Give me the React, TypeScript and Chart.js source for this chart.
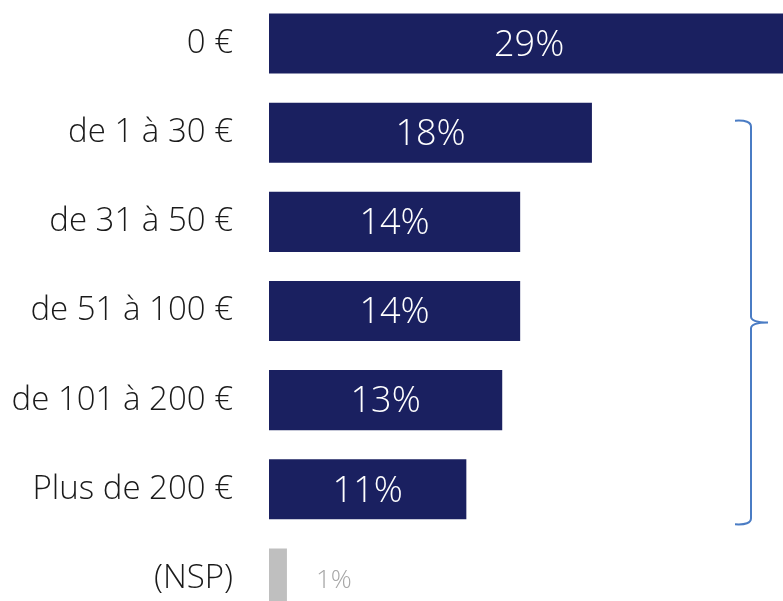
import React, { useEffect, useRef } from "react";
import { Chart, registerables } from "chart.js";

Chart.register(...registerables);

const categories = ["0 €", "de 1 à 30 €", "de 31 à 50 €", "de 51 à 100 €", "de 101 à 200 €", "Plus de 200 €", "(NSP)"];
const values = [29, 18, 14, 14, 13, 11, 1];
const barColors = ["#1a2060", "#1a2060", "#1a2060", "#1a2060", "#1a2060", "#1a2060", "#bfbfbf"];

const FONT = "'Open Sans', 'DejaVu Sans', sans-serif";

const labelPlugin = {
  id: "valueLabels",
  afterDatasetsDraw(chart: any) {
    const ctx = chart.ctx;
    const meta = chart.getDatasetMeta(0);
    ctx.save();
    meta.data.forEach((bar: any, i: number) => {
      const v = values[i];
      const txt = v + "%";
      ctx.textBaseline = "middle";
      ctx.textAlign = "center";
      if (i === values.length - 1) {
        ctx.font = `300 26px ${FONT}`;
        ctx.fillStyle = "#a6a6a6";
        ctx.fillText(txt, bar.x + 47, bar.y + 2);
      } else {
        ctx.font = `300 36px ${FONT}`;
        ctx.fillStyle = "#ffffff";
        ctx.fillText(txt, (bar.x + bar.base) / 2, bar.y + 2);
      }
    });
    ctx.restore();
  },
};

const bracePlugin = {
  id: "brace",
  afterDraw(chart: any) {
    const ctx = chart.ctx;
    const y = chart.scales.y;
    const top = y.getPixelForValue(1) - 12;
    const bottom = y.getPixelForValue(5) + 35;
    const mid = (top + bottom) / 2;
    const xv = 751;
    const xl = 735;
    const xr = 768;
    ctx.save();
    ctx.strokeStyle = "#4a7cc4";
    ctx.lineWidth = 2;
    ctx.beginPath();
    ctx.moveTo(xl, top);
    ctx.quadraticCurveTo(xv, top - 1, xv, top + 6);
    ctx.lineTo(xv, mid - 6);
    ctx.quadraticCurveTo(xv, mid, xr, mid);
    ctx.moveTo(xr, mid);
    ctx.quadraticCurveTo(xv, mid, xv, mid + 6);
    ctx.lineTo(xv, bottom - 6);
    ctx.quadraticCurveTo(xv, bottom + 1, xl, bottom);
    ctx.stroke();
    ctx.restore();
  },
};

export default function App() {
  const ref = useRef<HTMLCanvasElement>(null);
  useEffect(() => {
    if (!ref.current) return;
    const chart = new Chart(ref.current, {
      type: "bar",
      data: {
        labels: categories,
        datasets: [
          {
            data: values,
            backgroundColor: barColors,
            categoryPercentage: 1,
            barPercentage: 0.674,
          },
        ],
      },
      options: {
        indexAxis: "y",
        animation: false,
        responsive: false,
        maintainAspectRatio: false,
        layout: { padding: 0 },
        plugins: { legend: { display: false }, tooltip: { enabled: false } },
        scales: {
          x: { display: false, min: 0, max: 28.65 },
          y: {
            grid: { display: false, drawTicks: false },
            border: { display: false },
            ticks: {
              padding: 36,
              color: "#1a1a1a",
              font: { family: FONT, size: 33, weight: "300" as any },
            },
            afterFit(scale: any) {
              scale.width = 269;
              scale.paddingTop = 0;
              scale.paddingBottom = 0;
            },
          },
        },
      },
      plugins: [labelPlugin, bracePlugin],
    });
    return () => chart.destroy();
  }, []);
  return (
    <div style={{ position: "fixed", left: 0, top: 0, width: 783, height: 601, overflow: "hidden" }}>
      <canvas
        ref={ref}
        width={783}
        height={624}
        style={{ position: "absolute", left: 0, top: -1, width: 783, height: 624, display: "block" }}
      />
    </div>
  );
}
